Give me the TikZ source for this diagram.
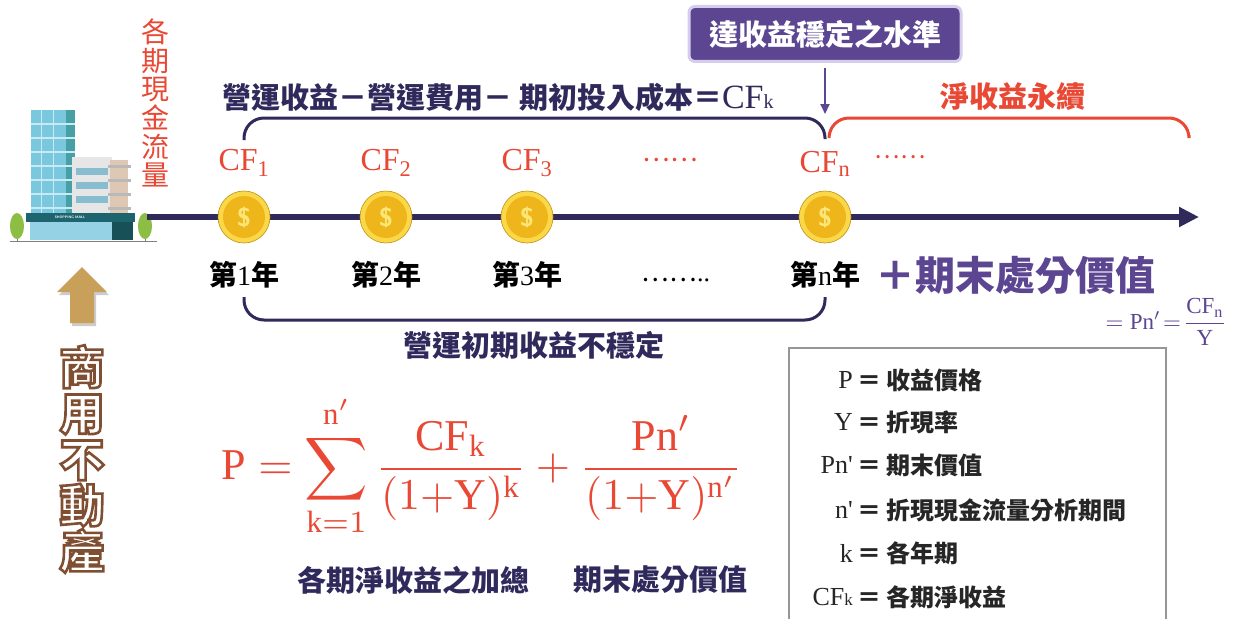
\documentclass[tikz,border=0pt]{standalone}
\usepackage{amsmath}
\usepackage{fontspec}
\setmainfont{Liberation Serif}
\newfontfamily\cjk{Noto Sans CJK TC}
\usetikzlibrary{arrows.meta,calc,positioning}

\definecolor{tlnavy}{RGB}{48,42,92}
\definecolor{tlred}{RGB}{232,72,52}
\definecolor{tlpurple}{RGB}{92,70,146}
\definecolor{tlhalo}{RGB}{214,204,236}
\definecolor{tlgold}{RGB}{200,160,90}
\definecolor{coinrim}{RGB}{250,216,72}
\definecolor{coinface}{RGB}{238,182,26}
\definecolor{coinmark}{RGB}{252,230,120}
\definecolor{towerblue}{RGB}{122,200,222}
\definecolor{towerteal}{RGB}{70,160,165}
\definecolor{mallteal}{RGB}{30,100,110}
\definecolor{glass}{RGB}{150,210,230}
\definecolor{wallgray}{RGB}{230,230,230}
\definecolor{wallbeige}{RGB}{222,200,180}
\definecolor{treegreen}{RGB}{140,190,70}
\definecolor{legendgray}{RGB}{150,150,150}

\newcommand{\smallk}[1]{{\fontsize{#1}{#1}\selectfont k}}
% brown stroked outline round filled glyphs
\newcommand{\outlineon}{\special{pdf:literal direct 0.502 0.306 0.188 RG 2.6 w 2 Tr}}
\newcommand{\outlineoff}{\special{pdf:literal direct 0 Tr}}

\begin{document}
\begin{tikzpicture}[x=1pt, y=-1pt,
  navylabel/.style={text=tlnavy, inner sep=0pt, font=\cjk\bfseries\fontsize{29}{32}\selectfont},
  redlabel/.style={text=tlred, inner sep=0pt, font=\cjk\bfseries\fontsize{29}{32}\selectfont},
  cflabel/.style={text=tlred, inner sep=0pt, font=\fontsize{32}{34}\selectfont},
  yearlabel/.style={inner sep=0pt, font=\cjk\bfseries\fontsize{28}{30}\selectfont},
  coin/.style={circle, minimum size=52pt, inner sep=0pt, fill=coinrim, draw=coinface!80!black,
    line width=0.6pt, text=coinmark, font=\sffamily\bfseries\fontsize{26}{26}\selectfont,
    path picture={\fill[coinface] (path picture bounding box.center) circle (21pt);}},
  timeline/.style={draw=tlnavy, line width=6pt, -{Triangle[length=20pt, width=19pt]}},
  bracket/.style={line width=3pt, rounded corners=20pt},
  stagebox/.style={draw=tlhalo, line width=3pt, fill=tlpurple, rounded corners=6pt, text=white,
    minimum width=272pt, minimum height=55pt, font=\cjk\bfseries\fontsize{29}{32}\selectfont},
  endvalue/.style={text=tlpurple, inner sep=0pt, font=\cjk\bfseries\fontsize{40}{44}\selectfont},
  reit/.style={text=white, align=center, inner sep=0pt, font=\cjk\bfseries\fontsize{45}{46}\selectfont},
  formula/.style={text=tlred, inner sep=0pt},
  legendsym/.style={anchor=east, inner sep=0pt, text=black!85, font=\fontsize{26}{28}\selectfont},
  legendtxt/.style={anchor=west, inner sep=0pt, text=black!85, font=\cjk\bfseries\fontsize{24}{26}\selectfont}]

\fill[white] (0,0) rectangle (1236,618);
\useasboundingbox (0,0) rectangle (1236,618);

% Building
\fill[towerblue] (31,110) rectangle (66,213);
\fill[towerteal] (66,110) rectangle (75,213);
\foreach \y in {124,138,...,208}
  \draw[white!60!towerblue, line width=1.2pt] (31,\y) -- (75,\y);
\foreach \x in {41,53}
  \draw[white!60!towerblue, line width=1pt] (\x,110) -- (\x,213);
\fill[wallgray] (72,157) rectangle (112,213);
\fill[wallbeige] (110,160) rectangle (128,213);
\foreach \y in {168,182,196}
  \fill[glass!90!black] (76,\y) rectangle (108,{\y+7});
\foreach \y in {165,179,193,207}
  \fill[gray!55] (108,\y) rectangle (131,{\y+3});
\fill[mallteal] (26,213) rectangle (135,222);
\node[text=white, inner sep=0pt, font=\sffamily\bfseries\fontsize{3.5}{4}\selectfont] (mallsign) at (70,217.5) {SHOPPING MALL};
\fill[glass] (30,222) rectangle (112,240);
\fill[mallteal!80!black] (112,222) rectangle (133,240);
\foreach \x in {17,145} {
  \draw[gray, line width=1pt] (\x,230) -- (\x,241);
  \fill[treegreen] (\x,226) ellipse (7 and 13);
}
\draw[gray, line width=1pt] (10,241) -- (157,241);

% Timeline
\coordinate (start) at (147,217);
\coordinate (end) at (1199,217);
\draw[timeline] (start) -- (end);

% Coins
\foreach \n/\x in {1/244,2/386,3/527,n/825} {
  \node[coin] (c\n) at (\x,217) {\$};
  \node[cflabel, above=14pt of c\n] (cf\n) {CF$_{\mathrm{\n}}$};
  \node[yearlabel, below=18pt of c\n] (yr\n) {第{\rmfamily\mdseries\n}年};
}
\node[cflabel, font=\cjk\fontsize{26}{26}\selectfont] (cfdots) at (670,160) {……};
\node[cflabel, font=\cjk\fontsize{24}{24}\selectfont] (perpdots) at (900,157) {……};
\node[yearlabel, font=\cjk\fontsize{26}{26}\selectfont] (yrdots) at (676,280) {……{\rmfamily ..}};

% Brackets
\draw[bracket, tlnavy] ($(c1)+(0,-77)$) |- ($(cn)+(0,-99)$) -- ($(cn)+(0,-78)$);
\draw[bracket, tlred] ($(cn)+(4,-79)$) |- ($(cn)+(364,-99)$) -- ($(cn)+(364,-82)$);
\draw[bracket, tlnavy] ($(c1)+(0,80)$) |- ($(cn)+(0,103)$) -- ($(cn)+(0,80)$);

% Bracket labels
\node[navylabel] (opcf) at (498,97) {營運收益－營運費用－ 期初投入成本＝{\rmfamily\mdseries\fontsize{34}{34}\selectfont CF\smallk{20}}};
\node[redlabel] (perp) at (1013,97) {淨收益永續};
\node[navylabel] (unstable) at (534,345) {營運初期收益不穩定};

% Stable level
\node[stagebox] (stage) at (825,34) {達收益穩定之水準};
\draw[-{Triangle[length=10pt, width=9pt]}, tlpurple, line width=2pt] ([yshift=-5pt]stage.south) -- ($(cn)+(0,-103)$);

% Cash flow label
\node[redlabel, align=center, font=\cjk\fontsize{28}{28.7}\selectfont] (cashflow) at (155,103) {各\\期\\現\\金\\流\\量};

% End value
\node[endvalue] (endv) at (1015,275) {＋期末處分價值};
\node[text=tlpurple, inner sep=0pt] (pnratio) at (1166,322)
  {\scalebox{2.3}{$=\mathrm{Pn}'\!=\!\dfrac{\mathrm{CF_n}}{\mathrm{Y}}$}};

% Property arrow
\fill[black!20, shift={(2,3)}] (82,267) -- (107,292) -- (94,292) -- (94,323) -- (70,323) -- (70,292) -- (57,292) -- cycle;
\fill[tlgold] (82,267) -- (107,292) -- (94,292) -- (94,323) -- (70,323) -- (70,292) -- (57,292) -- cycle;
\node[reit] (reit) at (82,459) {\outlineon 商\\用\\不\\動\\產\outlineoff};

% Formula
\node[formula] (eq) at (482,466)
  {\scalebox{4.4}{$\displaystyle \mathrm{P}=\sum_{\mathrm{k}=1}^{\mathrm{n}'}\frac{\mathrm{CF}_{\mathrm{k}}}{(1{+}\mathrm{Y})^{\mathrm{k}}}+\frac{\mathrm{Pn}'}{(1{+}\mathrm{Y})^{\mathrm{n}'}}$}};
\node[navylabel] (sumlabel) at (413,580) {各期淨收益之加總};
\node[navylabel] (endlabel) at (660,580) {期末處分價值};

% Legend
\draw[legendgray, line width=2.5pt] (789,348) rectangle (1166,630);
\foreach \sym/\txt/\y [count=\i] in {P/收益價格/380, Y/折現率/422, Pn\textquotesingle/期末價值/465,
    n\textquotesingle/折現現金流量分析期間/510, k/各年期/553, CF\smallk{17}/各期淨收益/597} {
  \node[legendsym] (sym\i) at (853,\y) {\sym};
  \node[legendtxt] (def\i) at (857,\y) {＝ \txt};
}

\end{tikzpicture}
\end{document}
